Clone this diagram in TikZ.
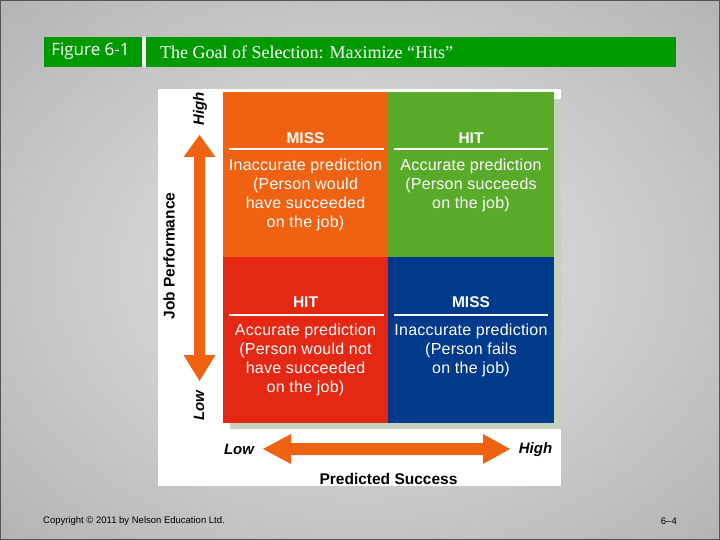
\documentclass[tikz,border=0pt]{standalone}
\usepackage{fontspec}
\setmainfont{Liberation Sans}
\newfontfamily\titlefont{Liberation Serif}
\newfontfamily\figfont{Open Sans}
\newfontfamily\bodyfont[LetterSpace=1.5]{Liberation Sans}
\definecolor{bgIn}{HTML}{D6D6D6}
\definecolor{bgOut}{HTML}{7E7E7E}
\definecolor{barGreen}{HTML}{009A00}
\definecolor{qOrange}{HTML}{EE6212}
\definecolor{qGreen}{HTML}{5AAA2A}
\definecolor{qRed}{HTML}{E42814}
\definecolor{qBlue}{HTML}{003A8C}
\definecolor{shadowC}{HTML}{C6D2BE}
\definecolor{arrowC}{HTML}{EE6212}
\definecolor{edgeC}{HTML}{555555}
\pgfdeclareradialshading{bgshade}{\pgfpoint{0bp}{0bp}}{color(0bp)=(bgIn); color(12bp)=(bgIn); color(72bp)=(bgOut)}
\begin{document}
\begin{tikzpicture}[x=1pt,y=-1pt,
  quad/.style={draw=none, minimum width=165.5pt, minimum height=165.5pt, inner sep=0pt, outer sep=0pt, anchor=north west},
  qhead/.style={text=white, font=\bfseries\fontsize{15.5}{18}\selectfont, inner sep=0pt},
  qbody/.style={text=white, font=\bodyfont\fontsize{16}{19}\selectfont, align=center, inner sep=0pt},
  qrule/.style={white, line width=2pt},
  axlabel/.style={font=\bfseries\fontsize{15.5}{18}\selectfont, inner sep=0pt},
  endlabel/.style={font=\bfseries\itshape\fontsize{15}{18}\selectfont, inner sep=0pt},
  arrowfill/.style={fill=arrowC, draw=none},
  foot/.style={font=\fontsize{9.5}{11}\selectfont, inner sep=0pt}]
\useasboundingbox (0,0) rectangle (720,540);
\shade[shading=bgshade] (0,0) rectangle (720,540);
\draw[edgeC, line width=1.5pt] (0,0) rectangle (720,540);
% header bar
\fill[barGreen] (44,37) rectangle (676,67);
\fill[white] (142,37) rectangle (146,67);
\node[text=white, font=\figfont\fontsize{17}{20}\selectfont, inner sep=0pt] (fig) at (90.5,51) {Figure 6-1};
\node[text=white, font=\titlefont\fontsize{18}{21}\selectfont, inner sep=0pt, anchor=west] (title) at (160,52) {The Goal of Selection: Maximize “Hits”};
% panel
\fill[white] (158,89) rectangle (561,486);
\fill[shadowC] (230,99) rectangle (561,429);
\node[quad, fill=qOrange] (q1) at (223,92) {};
\node[quad, fill=qGreen] (q2) at (388,92) {};
\node[quad, fill=qRed] (q3) at (223,257) {};
\node[quad, fill=qBlue] (q4) at (388,257) {};
% quadrant texts
\node[qhead] (h1) at (305.5,138) {MISS};
\node[qhead] (h2) at (471,138) {HIT};
\node[qhead] (h3) at (305.5,302.5) {HIT};
\node[qhead] (h4) at (471,302.5) {MISS};
\draw[qrule] (229,149.5) -- (384,149.5);
\draw[qrule] (394,149.5) -- (548,149.5);
\draw[qrule] (229,314.5) -- (384,314.5);
\draw[qrule] (394,314.5) -- (548,314.5);
\node[qbody] (b1) at (305.5,194.5) {Inaccurate prediction\\(Person would\\have succeeded\\on the job)};
\node[qbody] (b2) at (471,185) {Accurate prediction\\(Person succeeds\\on the job)};
\node[qbody] (b3) at (305.5,359.5) {Accurate prediction\\(Person would not\\have succeeded\\on the job)};
\node[qbody] (b4) at (471,350) {Inaccurate prediction\\(Person fails\\on the job)};
% vertical arrow
\fill[arrowfill] (199.5,135) -- (215.5,157) -- (205,157) -- (205,355) -- (215.5,355) -- (199.5,381) -- (183.5,355) -- (194,355) -- (194,157) -- (183.5,157) -- cycle;
% horizontal arrow
\fill[arrowfill] (263,449) -- (291,434) -- (291,443) -- (483,443) -- (483,434) -- (510,449) -- (483,464) -- (483,455) -- (291,455) -- (291,464) -- cycle;
% axis labels
\node[endlabel, rotate=90] (vhigh) at (200,109) {High};
\node[endlabel, rotate=90] (vlow) at (199,406) {Low};
\node[axlabel, rotate=90] (vlab) at (169,256) {Job Performance};
\node[endlabel] (hlow) at (239,449.5) {Low};
\node[endlabel] (hhigh) at (535.5,449.5) {High};
\node[axlabel] (hlab) at (388.5,479) {Predicted Success};
% footer
\node[foot, anchor=west] (copy) at (43,521) {Copyright © 2011 by Nelson Education Ltd.};
\node[foot, anchor=east] (pg) at (677,521) {6–4};
\end{tikzpicture}
\end{document}
